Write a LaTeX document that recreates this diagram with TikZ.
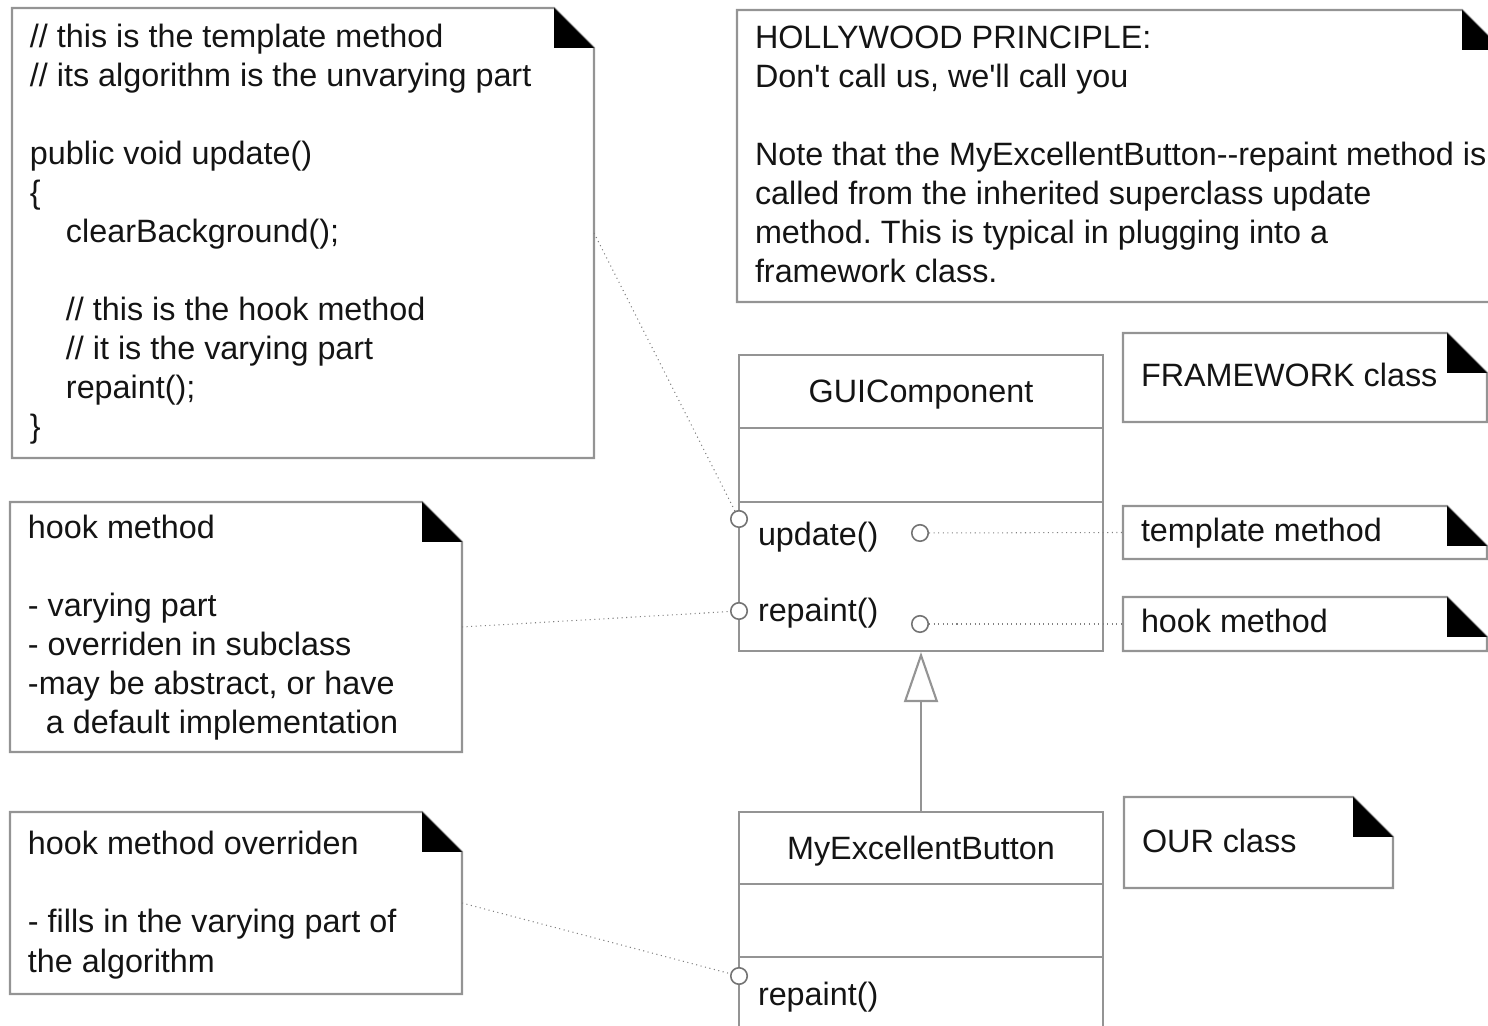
\documentclass[tikz,border=0pt]{standalone}
\usepackage{fontspec}
\setmainfont{Liberation Sans}[Ligatures=TeXOff]
\frenchspacing
\usetikzlibrary{fit,arrows.meta}

\tikzset{
  notearea/.style={inner sep=0pt, outer sep=0pt, draw=none},
  notepen/.style={draw=black!42, line width=1.2pt},
  classpen/.style={draw=black!42, line width=1.2pt},
  txt/.style={inner sep=0pt, outer sep=0pt, align=left, text=black!92,
    font=\fontsize{18.4pt}{22.2pt}\selectfont},
  port/.style={circle, draw=black!55, line width=0.9pt, fill=white,
    minimum size=0.33cm, inner sep=0pt},
  link/.style={draw=black!50, dotted, line width=0.6pt},
  inherit/.style={classpen, -{Triangle[open, length=1cm, width=0.68cm]}},
}

% note outline with a dog-eared top right corner
\newcommand\foldnote[1]{%
  \draw[notepen] (#1.south west) -- (#1.north west)
    -- ([xshift=-0.8cm]#1.north east) -- ([yshift=-0.8cm]#1.north east)
    -- (#1.south east) -- cycle;
  \fill[black] ([xshift=-0.8cm]#1.north east)
    -- ([xshift=-0.8cm,yshift=-0.8cm]#1.north east)
    -- ([yshift=-0.8cm]#1.north east) -- cycle;}

\newcommand\ind{\hspace*{0.72cm}}

\begin{document}
\begin{tikzpicture}[x=0.02cm, y=-0.02cm]
\useasboundingbox (0,0) rectangle (1488,1026);

% ---- notes ----
\node[notearea, fit={(12,8) (594,458)}] (tmplcode) {};
\node[notearea, fit={(737,10) (1502,302)}] (hollywood) {};
\node[notearea, fit={(1123,333) (1487,422)}] (fwnote) {};
\node[notearea, fit={(1123,506) (1487,559)}] (tmplnote) {};
\node[notearea, fit={(1123,597) (1487,651)}] (hooknote) {};
\node[notearea, fit={(10,502) (462,752)}] (hookdesc) {};
\node[notearea, fit={(10,812) (462,994)}] (overnote) {};
\node[notearea, fit={(1124,797) (1393,888)}] (ournote) {};
\foreach \n in {tmplcode,hollywood,fwnote,tmplnote,hooknote,hookdesc,overnote,ournote}
  {\foldnote{\n}}

% multi-line texts are placed by the baseline of their last line
\node[txt, anchor=base west] (tmpltext) at (30,438) {%
// this is the template method\\
// its algorithm is the unvarying part\\
\mbox{}\\
public void update()\\
\{\\
\ind clearBackground();\\
\mbox{}\\
\ind // this is the hook method\\
\ind // it is the varying part\\
\ind repaint();\\
\}};

\node[txt, anchor=base west] (hwtext) at (755,283) {%
HOLLYWOOD PRINCIPLE:\\
Don't call us, we'll call you\\
\mbox{}\\
Note that the MyExcellentButton--repaint method is\\
called from the inherited superclass update\\
method. This is typical in plugging into a\\
framework class.};

\node[txt, anchor=base west] (fwtext) at (1141,387) {FRAMEWORK class};
\node[txt, anchor=base west] (tmpltag) at (1141,542) {template method};
\node[txt, anchor=base west] (hooktag) at (1141,633) {hook method};
\node[txt, anchor=base west] (ourtext) at (1142,852) {OUR class};

\node[txt, anchor=base west] (hooktext) at (28,734) {%
hook method\\
\mbox{}\\
- varying part\\
- overriden in subclass\\
-may be abstract, or have\\
\hspace*{0.36cm}a default implementation};

\node[txt, anchor=base west] (overtext) at (28,972) {%
hook method overriden\\
\mbox{}\\
- fills in the varying part of\\
the algorithm};

% ---- classes ----
\node[classpen, draw, inner sep=0pt, fit={(739,355) (1103,651)}] (gui) {};
\draw[classpen] (739,428) -- (1103,428);
\draw[classpen] (739,502) -- (1103,502);
\node[txt, anchor=base] (guiname) at (921,403) {GUIComponent};
\node[txt, anchor=base west] (guiupd) at (758,546) {update()};
\node[txt, anchor=base west] (guirep) at (758,622) {repaint()};

\node[classpen, draw, inner sep=0pt, fit={(739,812) (1103,1060)}] (meb) {};
\draw[classpen] (739,884) -- (1103,884);
\draw[classpen] (739,957) -- (1103,957);
\node[txt, anchor=base] (mebname) at (921,859) {MyExcellentButton};
\node[txt, anchor=base west] (mebrep) at (758,1005) {repaint()};

% ---- ports ----
\node[port] (pupdL) at (739,519) {};
\node[port] (prepL) at (739,611) {};
\node[port] (pupdR) at (920,533) {};
\node[port] (prepR) at (920,624) {};
\node[port] (pmeb) at (739,976) {};

% ---- connectors ----
\draw[link] (tmplcode.east) -- (pupdL);
\draw[link] (hookdesc.east) -- (prepL);
\draw[link] (overnote.east) -- (pmeb);
\draw[link] (pupdR) -- (tmplnote.west);
\draw[link] (prepR) -- (hooknote.west);

\draw[inherit] (meb.north) -- (gui.south);
\end{tikzpicture}
\end{document}
